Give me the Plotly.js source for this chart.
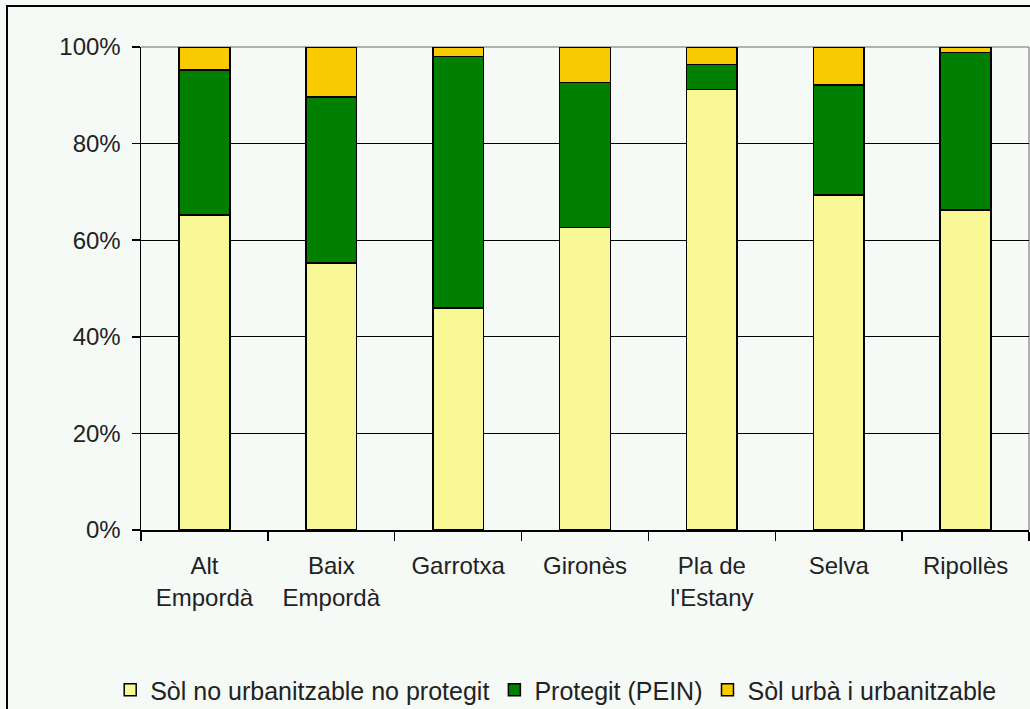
<!DOCTYPE html>
<html>
<head>
<meta charset="utf-8">
<script src="https://cdn.plot.ly/plotly-3.0.1.min.js"></script>
<style>
html,body{margin:0;padding:0;background:#F6FAF7;}
#chart{width:1030px;height:709px;}
#frame{position:absolute;left:6px;top:5px;width:1040px;height:720px;border:2px solid #000;pointer-events:none;}
</style>
</head>
<body>
<div id="chart"></div>
<div id="frame"></div>
<script>
const categories = ["Alt<br>Empordà", "Baix<br>Empordà", "Garrotxa", "Gironès", "Pla de<br>l'Estany", "Selva", "Ripollès"];
const noProtegit = [65.2, 55.3, 46.0, 62.6, 91.2, 69.4, 66.3];
const protegit = [30.0, 34.4, 52.0, 30.0, 5.2, 22.7, 32.6];
const urba = [4.8, 10.3, 2.0, 7.4, 3.6, 7.9, 1.1];
const seriesNames = ["Sòl no urbanitzable no protegit", "Protegit (PEIN)", "Sòl urbà i urbanitzable"];
const seriesColors = ["#F8F896", "#007F00", "#F8CB00"];
const yTicks = [0, 20, 40, 60, 80, 100];
const yTickText = ["0%", "20%", "40%", "60%", "80%", "100%"];

const seriesValues = [noProtegit, protegit, urba];
const traces = seriesValues.map((vals, i) => ({
  type: 'bar',
  x: categories,
  y: vals,
  name: seriesNames[i],
  marker: {color: seriesColors[i], line: {color: '#000', width: 1.5}},
  width: 0.4,
  hoverinfo: 'x+y'
}));

const font = {family: '"Liberation Sans", Arial, sans-serif', size: 24, color: '#222'};
const legendFont = {family: '"Liberation Sans", Arial, sans-serif', size: 25, color: '#222'};

const layout = {
  width: 1030, height: 709,
  barmode: 'stack',
  paper_bgcolor: '#F6FAF7',
  plot_bgcolor: '#F6FAF7',
  font: font,
  margin: {l: 141, r: 1, t: 47, b: 179, pad: 0},
  showlegend: true,
  legend: {
    orientation: 'h', xref: 'container', yref: 'container', traceorder: 'normal',
    x: 0.54, xanchor: 'center', y: 1 - 690/709, yanchor: 'middle',
    font: legendFont, bgcolor: 'rgba(0,0,0,0)', itemwidth: 30, tracegroupgap: 0
  },
  xaxis: {
    showline: true, linecolor: '#000', linewidth: 1.5,
    ticks: 'outside', ticklen: 9, tickcolor: '#000', tickwidth: 1.5,
    tickson: 'boundaries', showgrid: false,
    tickfont: font, ticklabelstandoff: 14
  },
  yaxis: {
    range: [0, 100], tickvals: yTicks, ticktext: yTickText,
    showline: true, linecolor: '#000', linewidth: 1.5,
    ticks: 'outside', ticklen: 8, tickcolor: '#000', tickwidth: 1.5,
    showgrid: true, gridcolor: '#000', gridwidth: 1.2,
    zeroline: false, tickfont: font, ticklabelstandoff: 6
  },
  shapes: [
    {type: 'line', xref: 'paper', yref: 'paper', x0: 0, x1: 1, y0: 1, y1: 1, line: {color: '#999', width: 1.5}, layer: 'between'},
    {type: 'line', xref: 'paper', yref: 'paper', x0: 1, x1: 1, y0: 0, y1: 1, line: {color: '#999', width: 1.5}, layer: 'between'}
  ]
};

Plotly.newPlot('chart', traces, layout, {displayModeBar: false, staticPlot: true});
</script>
</body>
</html>
